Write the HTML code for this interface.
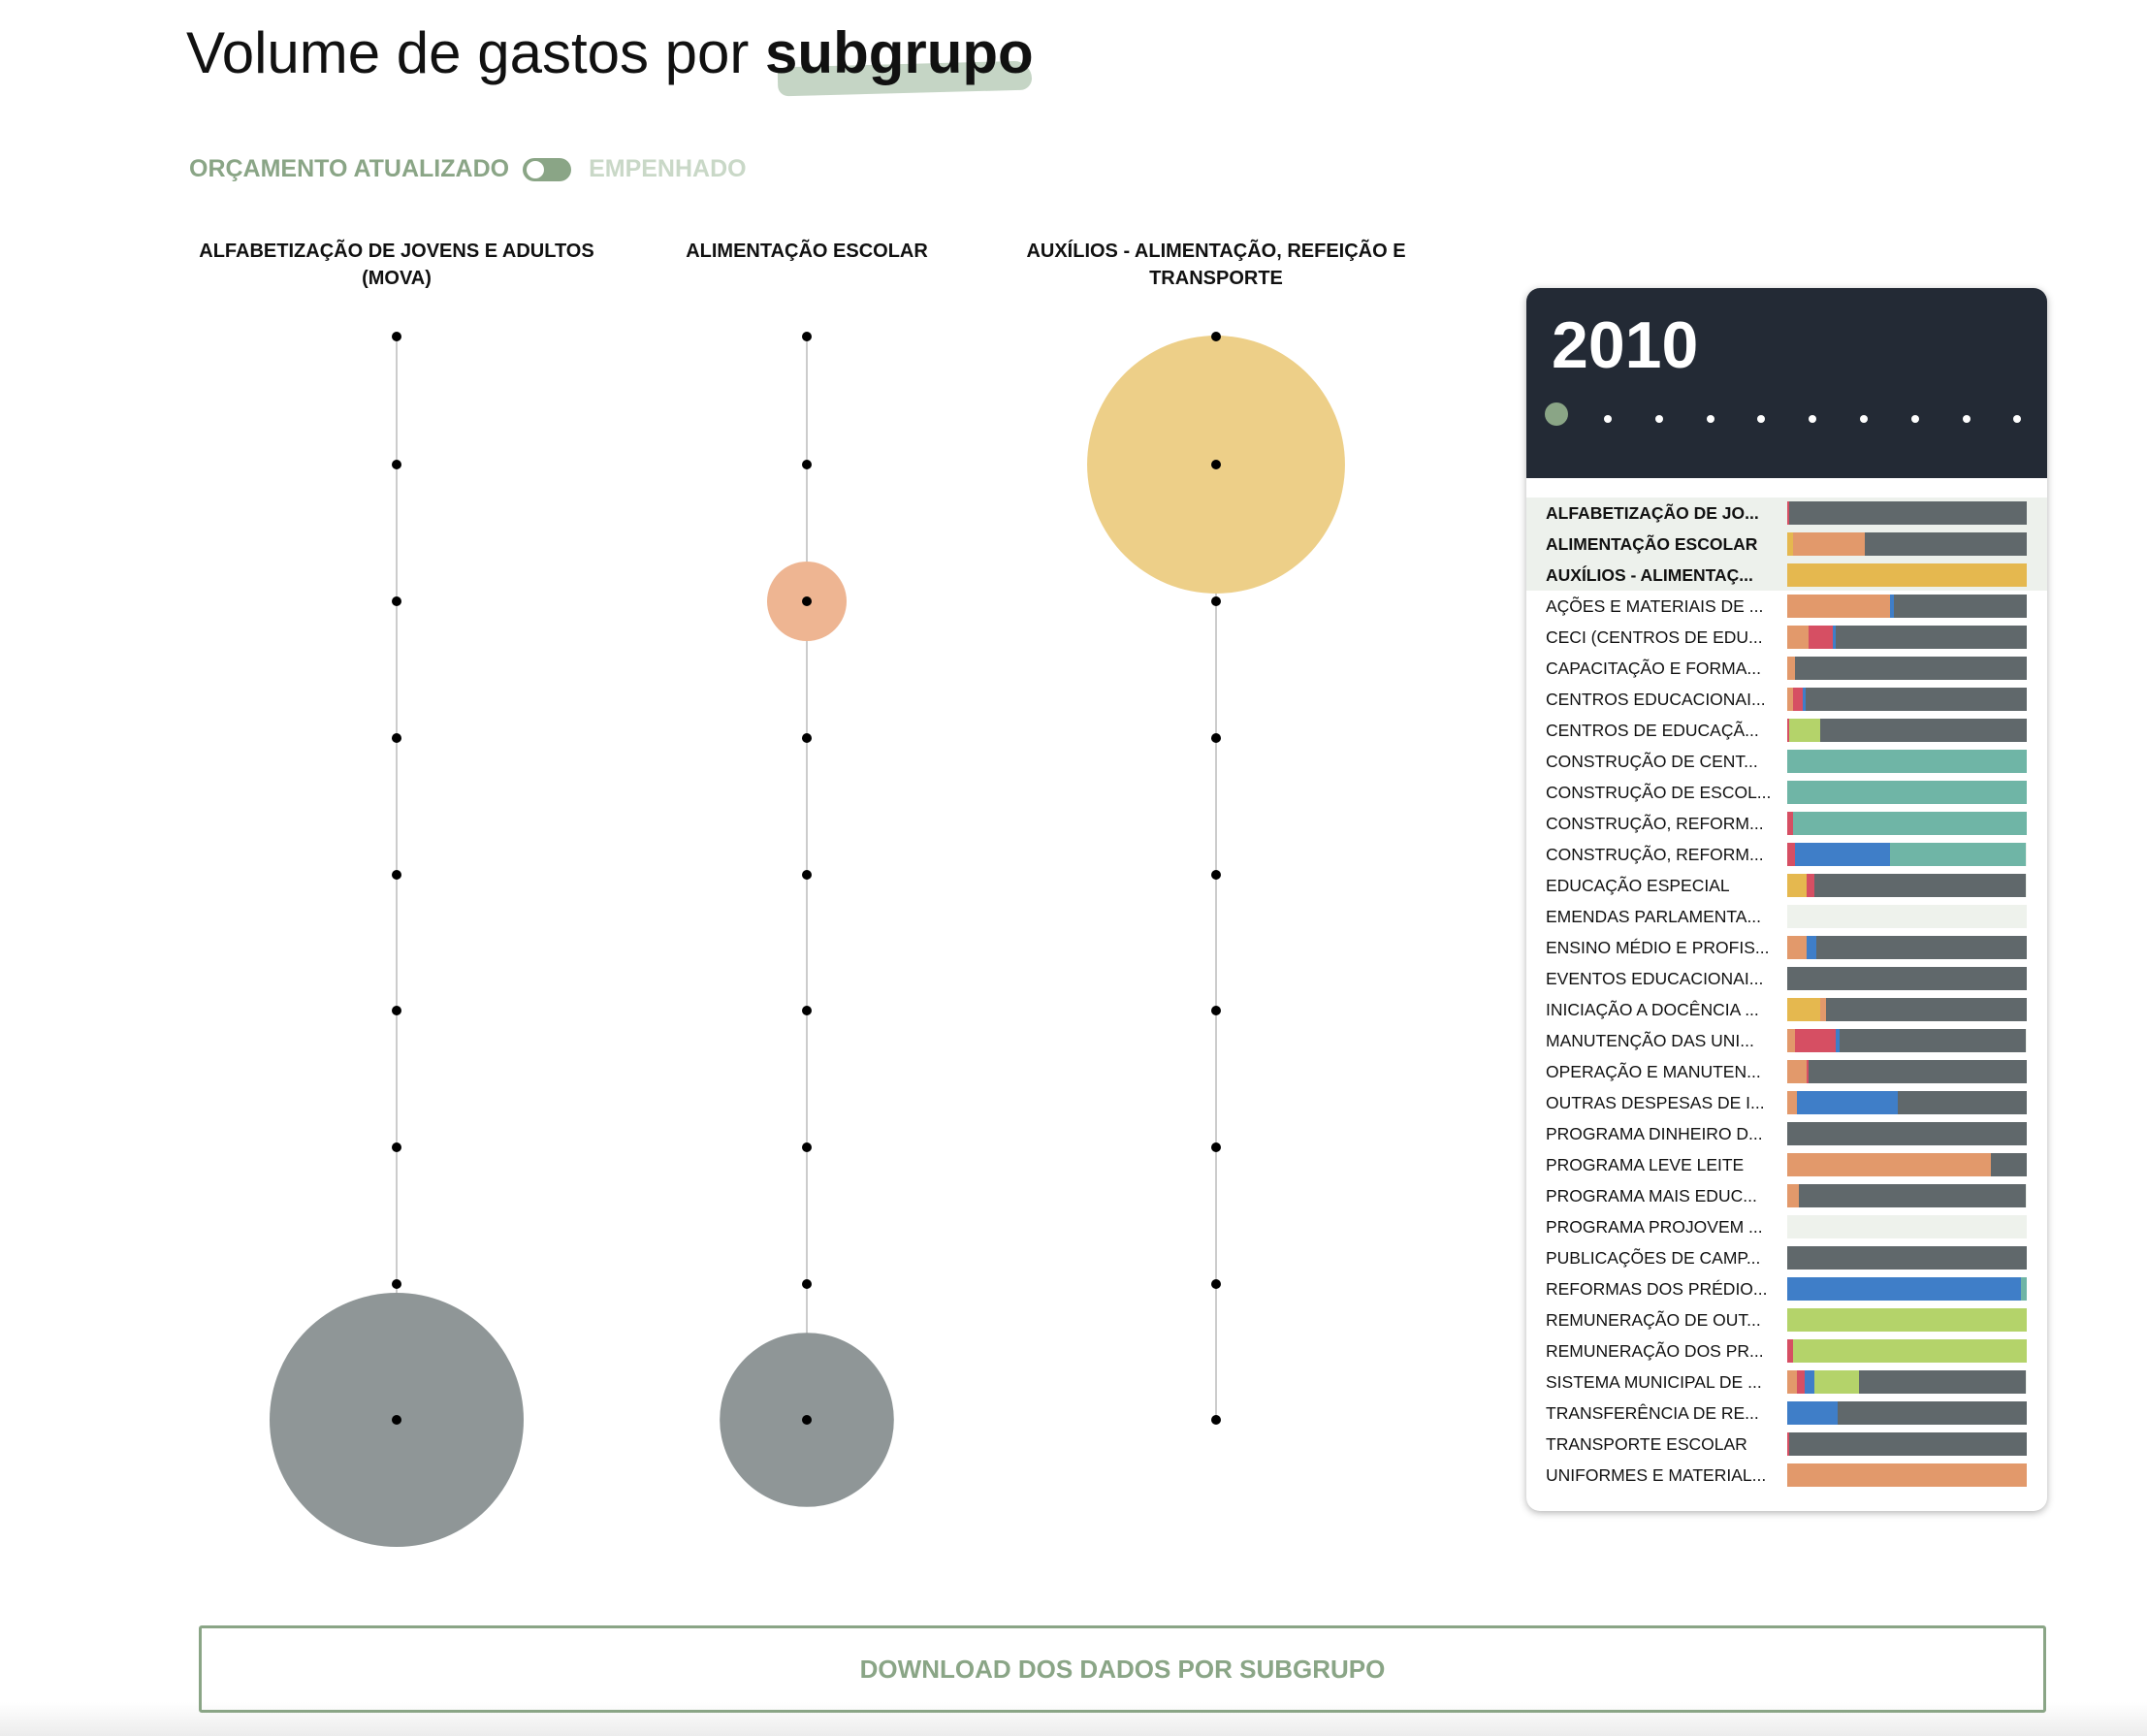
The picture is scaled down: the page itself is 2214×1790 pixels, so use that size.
<!DOCTYPE html>
<html><head><meta charset="utf-8"><style>
body{margin:0;width:2214px;height:1790px;background:#fff;font-family:"Liberation Sans",sans-serif;position:relative;overflow:hidden}
.abs{position:absolute}
</style></head><body>
<div class="abs" style="left:0;top:1755px;width:2214px;height:35px;background:linear-gradient(#fff,#ececec)"></div>
<div class="abs" style="left:802px;top:66px;width:262px;height:30px;background:#c5d5c5;border-radius:14px 30px 20px 18px;transform:rotate(-1.5deg)"></div>
<div class="abs" style="left:192px;top:20px;font-size:60px;color:#111;white-space:nowrap">Volume de gastos por <b style="position:relative">subgrupo</b></div>
<div class="abs" style="left:195px;top:160px;font-size:25px;font-weight:bold;white-space:nowrap;display:flex;align-items:center">
<span style="color:#8aa586">ORÇAMENTO ATUALIZADO</span>
<span style="display:inline-block;width:50px;height:24px;border-radius:12px;background:#8aa586;margin:0 18px 0 14px;position:relative"><span style="position:absolute;left:4px;top:3px;width:18px;height:18px;border-radius:9px;background:#fff"></span></span>
<span style="color:#c9d8c7">EMPENHADO</span></div>

<svg class="abs" style="left:0;top:0" width="1560" height="1660">
<g id="heads" font-size="20" font-weight="bold" fill="#111" text-anchor="middle"></g>
<g id="lines"></g><g id="bubbles"></g><g id="dots"></g>
</svg>

<div class="abs" style="left:1574px;top:297px;width:537px;height:1261px;border-radius:14px;background:#fff;box-shadow:0 2px 8px rgba(0,0,0,0.3);overflow:hidden">
<div style="height:196px;background:#232a35;position:relative">
<div style="position:absolute;left:26px;top:20px;font-size:68px;font-weight:bold;color:#fff">2010</div>
<div id="yeardots"></div>
</div>
<div id="rows" style="position:relative"></div>
</div>

<div class="abs" style="left:205px;top:1676px;width:1899px;height:84px;border:3px solid #8aa586;border-radius:3px;color:#8aa586;font-size:26px;font-weight:bold;display:flex;align-items:center;justify-content:center;z-index:2">DOWNLOAD DOS DADOS POR SUBGRUPO</div>

<script>
const colNames=[["ALFABETIZAÇÃO DE JOVENS E ADULTOS","(MOVA)"],["ALIMENTAÇÃO ESCOLAR"],["AUXÍLIOS - ALIMENTAÇÃO, REFEIÇÃO E","TRANSPORTE"]];
const tickRows=[0,1,2,3,4,5,6,7,8];
const bubbleCol=[0,1,1,2];
const bubbleRow=[8,8,2,1];
const bubbleVal=[100,47,9.8,103];
const bubbleColor=["#8f9697","#8f9697","#eeb592","#edcf88"];
const colX=[409,832,1254];
const rowY=[347,479,620,761,902,1042,1183,1324,1464];
const rScale=v=>131*Math.sqrt(v/100);
const NS="http://www.w3.org/2000/svg";
function mk(t,a,p){const e=document.createElementNS(NS,t);for(const k in a)e.setAttribute(k,a[k]);p.appendChild(e);return e;}
const heads=document.getElementById('heads'),lines=document.getElementById('lines'),bub=document.getElementById('bubbles'),dots=document.getElementById('dots');
colNames.forEach((n,i)=>{n.forEach((s,j)=>{const t=mk('text',{x:colX[i],y:265+j*28},heads);t.textContent=s;

});
const l=mk('line',{x1:colX[i],x2:colX[i],y1:rowY[0],y2:rowY[rowY.length-1],stroke:'#ccc','stroke-width':2},lines);


tickRows.forEach(r=>{const d=mk('circle',{cx:colX[i],cy:rowY[r],r:5,fill:'#000'},dots);

});});
bubbleVal.forEach((v,i)=>{const c=mk('circle',{cx:colX[bubbleCol[i]],cy:rowY[bubbleRow[i]],r:rScale(v),fill:bubbleColor[i]},bub);

});

const yd=document.getElementById('yeardots');
const years=[2010,2011,2012,2013,2014,2015,2016,2017,2018,2019];
years.forEach((y,i)=>{const d=document.createElement('div');


const big=i===0,r=big?12:4,cx=i===0?31:84+(i-1)*52.8;
d.style.cssText=`position:absolute;left:${cx-r}px;top:${(big?130:135)-r}px;width:${2*r}px;height:${2*r}px;border-radius:50%;background:${big?'#8aa586':'#fff'}`;yd.appendChild(d);});

const labels=["ALFABETIZAÇÃO DE JO...","ALIMENTAÇÃO ESCOLAR","AUXÍLIOS - ALIMENTAÇ...","AÇÕES E MATERIAIS DE ...","CECI (CENTROS DE EDU...","CAPACITAÇÃO E FORMA...","CENTROS EDUCACIONAI...","CENTROS DE EDUCAÇÃ...","CONSTRUÇÃO DE CENT...","CONSTRUÇÃO DE ESCOL...","CONSTRUÇÃO, REFORM...","CONSTRUÇÃO, REFORM...","EDUCAÇÃO ESPECIAL","EMENDAS PARLAMENTA...","ENSINO MÉDIO E PROFIS...","EVENTOS EDUCACIONAI...","INICIAÇÃO A DOCÊNCIA ...","MANUTENÇÃO DAS UNI...","OPERAÇÃO E MANUTEN...","OUTRAS DESPESAS DE I...","PROGRAMA DINHEIRO D...","PROGRAMA LEVE LEITE","PROGRAMA MAIS EDUC...","PROGRAMA PROJOVEM ...","PUBLICAÇÕES DE CAMP...","REFORMAS DOS PRÉDIO...","REMUNERAÇÃO DE OUT...","REMUNERAÇÃO DOS PR...","SISTEMA MUNICIPAL DE ...","TRANSFERÊNCIA DE RE...","TRANSPORTE ESCOLAR","UNIFORMES E MATERIAL..."];
const sYellow=[0,18,706,0,0,0,0,0,0,0,0,0,57,0,0,0,97,0,0,0,0,0,0,0,0,0,0,0,0,0,0,0];
const sOrange=[0,211,0,303,63,23,18,0,0,0,0,0,0,0,57,0,17,23,57,29,0,599,35,0,0,0,0,0,29,0,0,706];
const sRed=[6,0,0,0,70,0,29,6,0,0,18,22,23,0,0,0,0,120,6,0,0,0,0,0,0,0,0,18,23,0,6,0];
const sBlue=[0,0,0,11,10,0,6,0,0,0,0,281,0,0,29,0,0,12,0,296,0,0,0,0,0,690,0,0,28,149,0,0];
const sGreen=[0,0,0,0,0,0,0,91,0,0,0,0,0,0,0,0,0,0,0,0,0,0,0,0,0,0,706,688,131,0,0,0];
const sTeal=[0,0,0,0,0,0,0,0,706,706,688,399,0,0,0,0,0,0,0,0,0,0,0,0,0,16,0,0,0,0,0,0];
const sGray=[700,477,0,392,563,683,653,609,0,0,0,0,622,0,620,706,592,547,643,381,706,107,667,0,706,0,0,0,493,557,700,0];
const series=[sYellow,sOrange,sRed,sBlue,sGreen,sTeal,sGray];
const sColors=["#e5b84f","#e2996b","#d64f63","#3f7ec8","#b4d36a","#6fb5a6","#60686b"];
const TOTAL=706,BW=247;
const rows=document.getElementById('rows');
labels.forEach((lab,i)=>{const top=20+i*32;
if(i<3){const h=document.createElement('div');h.style.cssText=`position:absolute;left:0;width:537px;top:${top}px;height:32px;background:#edf1ec`;rows.appendChild(h);}
const t=document.createElement('div');


t.textContent=lab;t.style.cssText=`position:absolute;left:20px;top:${top+6}px;font-size:17.5px;white-space:nowrap;color:#111;${i<3?'font-weight:bold;':''}`;rows.appendChild(t);
const bar=document.createElement('div');


bar.style.cssText=`position:absolute;left:269px;top:${top+4}px;width:${BW}px;height:24px;background:#eef2ec;display:flex`;
series.forEach((s,k)=>{if(s[i]>0){const seg=document.createElement('div');


seg.style.cssText=`width:${s[i]/TOTAL*BW}px;height:24px;background:${sColors[k]}`;bar.appendChild(seg);}});
rows.appendChild(bar);});
</script>
</body></html>
